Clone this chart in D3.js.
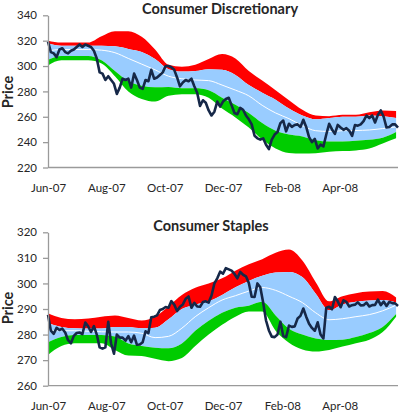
<!DOCTYPE html>
<html>
<head>
<meta charset="utf-8">
<script src="https://cdn.jsdelivr.net/npm/d3@7"></script>
<style>
  body { margin: 0; background: #fff; }
  svg text { font-family: Lato, "Open Sans", sans-serif; fill: #262626; }
</style>
</head>
<body>
<svg width="400" height="414"></svg>
<script>
// categories
var startDate = new Date(2007, 5, 1), endDate = new Date(2008, 5, 1);
var bandDates = d3.timeDay.range(startDate, new Date(2008, 4, 31), 14);   // every 2 weeks
var priceDates = d3.timeDay.range(startDate, new Date(2008, 5, 2), 3);    // every 3 days
var monthTicks = [new Date(2007, 5, 1), new Date(2007, 7, 1), new Date(2007, 9, 1),
                  new Date(2007, 11, 1), new Date(2008, 1, 1), new Date(2008, 3, 1)];

// Consumer Discretionary
var dcTicks = [220, 240, 260, 280, 300, 320, 340];
var dcUpper2 = [320, 318.5, 318.5, 318.5, 323.5, 327.5, 327.5, 323, 313, 301, 299.5, 301, 305.5, 309.5, 306, 296, 288.5, 281, 273, 265.5, 261, 260.5, 261.5, 261.5, 263.5, 265, 264.5];
var dcUpper1 = [318, 316, 316, 316, 316, 315.5, 313.5, 311, 305.5, 297.5, 295.6, 296, 297.5, 297, 293, 285, 279, 273.5, 266.5, 261, 258, 259, 260, 260, 261, 260.5, 259];
var dcMid    = [312, 313, 313, 313, 312.5, 310.5, 306, 301.5, 297, 292, 290, 289, 288.5, 285, 281, 276.5, 269, 263, 258.5, 253, 249, 248.4, 249, 249.2, 249.6, 250.7, 252];
var dcLower1 = [305, 308, 308, 308, 304.5, 296, 288, 284.5, 283.3, 283.5, 282.5, 282.5, 281, 275, 269.5, 263, 255, 249, 246, 244.5, 241.5, 240.5, 240.5, 241, 241.8, 243.5, 248];
var dcLower2 = [300.5, 304.5, 304.5, 304.5, 302, 292, 280, 274, 272, 276.5, 277.8, 277.8, 275, 266.5, 259.5, 251.5, 242, 235, 231.5, 231, 231.3, 232.5, 233, 233.5, 235, 239, 243];
var dcPrice = [
  319.3, 311, 310, 307, 313, 314, 311, 310, 312, 313,
  315, 317, 315, 317, 316, 315, 312, 306, 295, 294,
  289, 292, 289, 286, 278, 283, 290, 289, 290, 283,
  294, 289, 283, 282, 289, 288, 297, 290, 291, 293,
  295, 300, 300, 299, 297, 291, 284, 287, 289, 288,
  290, 284, 279, 268.6, 273, 271, 265, 261, 264, 272,
  268, 272, 274, 275, 269, 263, 262, 267, 265.5, 261,
  258, 254, 245, 243, 242, 243, 238, 234.5, 242, 246,
  248, 255, 257, 248.5, 254.5, 252, 253.5, 254, 252, 257.6,
  252, 244, 240, 242.5, 235, 238, 236.6, 246, 254.5, 250,
  246.5, 253.6, 251.5, 249.7, 251, 249, 245, 253.5, 253, 254,
  256.5, 261, 259, 261, 255.5, 261.5, 265, 260, 251.5, 252,
  254, 254, 251.5];

// Consumer Staples
var csTicks = [260, 270, 280, 290, 300, 310, 320];
var csUpper2 = [288.3, 286.5, 286, 286.3, 287, 287.5, 286.5, 285.5, 287, 291, 295.5, 298.3, 300, 302, 305, 307.5, 309.5, 312, 313.3, 309, 300.5, 293, 295, 296.2, 296.8, 297, 294.5];
var csUpper1 = [284.4, 283, 282.5, 282.4, 282.4, 283, 283, 282.5, 282.7, 286, 290, 291.7, 293, 295.5, 298.5, 301, 303, 304.3, 304.5, 302.5, 296, 289.5, 291.8, 292.8, 293.3, 293.5, 292.5];
var csMid    = [281.5, 281.5, 281.5, 281.3, 281.1, 281, 281, 280.5, 278.8, 279.3, 282.5, 287, 290.5, 293.5, 295.2, 297, 298.4, 297.3, 295, 292.5, 288.5, 285.8, 286.2, 287, 287.8, 289.3, 291.5];
var csLower1 = [277, 279, 279.8, 279.8, 279.8, 279.2, 276.5, 275.5, 274.8, 274.6, 276.5, 281.5, 285.4, 288.5, 290.5, 291.3, 292.8, 287.5, 282.3, 280, 278.5, 277.9, 278, 279, 280.6, 283, 288];
var csLower2 = [272, 275.5, 276.6, 276.6, 276.6, 274, 271.8, 271.6, 270.5, 269.6, 270.8, 275.5, 280, 283.8, 287, 289, 289, 281.5, 276.8, 274.2, 273.4, 274, 275.3, 276.6, 278, 281, 287];
var csPrice = [
  287.7, 281.5, 280.3, 282.6, 281.8, 282.3, 280.8, 277.8, 276.6, 279.5,
  280.6, 280.8, 280.2, 284.7, 283.2, 281, 283.3, 280, 275, 274.5,
  275, 285, 276.5, 272.5, 280, 278.8, 278.8, 277.6, 279.4, 277,
  279.6, 276, 276.1, 277, 281.3, 280.6, 286.8, 287, 287.5, 289.6,
  290, 290.8, 290.5, 293.1, 291.7, 289.2, 290.9, 291.8, 294, 294.9,
  290.5, 292.4, 291, 290.9, 292.7, 293, 292.5, 295.3, 300, 302,
  304.6, 303.8, 306, 305.5, 305, 303.7, 302, 304.5, 303.4, 302.8,
  300.2, 294.8, 294.7, 300, 298.5, 292.5, 285.5, 281.6, 279.2, 279,
  280, 285, 279.4, 279, 283.5, 283, 283.2, 286.3, 287.3, 290.2,
  287, 284.2, 282.6, 281.5, 284.8, 280, 278.5, 290.5, 290.9, 289.9,
  294.7, 293, 290.7, 293.4, 292.8, 291, 291.5, 291.7, 292.6, 291.4,
  291.5, 292.5, 291, 291.5, 291.6, 293.7, 291.5, 292.9, 291.2, 292.8,
  292.3, 292.2, 291.2];

var svg = d3.select("svg");
var xScale = d3.scaleTime().domain([startDate, endDate]).range([48, 398]);

function drawPanel(p) {
  var yScale = d3.scaleLinear().domain([p.ticks[0], p.ticks[p.ticks.length - 1]]).range([p.bottom, p.top]);
  var g = svg.append("g");

  var bands = bandDates.map(function(d, i) {
    return { date: d, u2: p.upper2[i], u1: p.upper1[i], m: p.mid[i], l1: p.lower1[i], l2: p.lower2[i] };
  });
  var prices = priceDates.slice(0, p.price.length).map(function(d, i) { return { date: d, v: p.price[i] }; });

  function band(a, b) {
    return d3.area().curve(d3.curveMonotoneX)
      .x(function(d) { return xScale(d.date); })
      .y0(function(d) { return yScale(d[b]); })
      .y1(function(d) { return yScale(d[a]); });
  }

  g.append("path").datum(bands).attr("fill", "#ff0000").attr("d", band("u2", "u1"));
  g.append("path").datum(bands).attr("fill", "#99ccff").attr("d", band("u1", "l1"));
  g.append("path").datum(bands).attr("fill", "#00cc00").attr("d", band("l1", "l2"));

  g.append("path").datum(bands)
    .attr("fill", "none").attr("stroke", "#ffffff").attr("stroke-width", 1)
    .attr("d", d3.line().curve(d3.curveMonotoneX)
      .x(function(d) { return xScale(d.date); })
      .y(function(d) { return yScale(d.m); }));

  g.append("path").datum(prices)
    .attr("fill", "none").attr("stroke", "#162848").attr("stroke-width", 2.6)
    .attr("stroke-linejoin", "round")
    .attr("d", d3.line()
      .x(function(d) { return xScale(d.date); })
      .y(function(d) { return yScale(d.v); }));

  // axes
  var yAxis = g.append("g")
    .attr("transform", "translate(48,0)")
    .call(d3.axisLeft(yScale).tickValues(p.ticks).tickSize(5).tickSizeOuter(0).tickPadding(6));
  var xAxis = g.append("g")
    .attr("transform", "translate(0," + p.bottom + ")")
    .call(d3.axisBottom(xScale).tickValues(monthTicks).tickFormat(d3.timeFormat("%b-%y"))
      .tickSize(0).tickSizeOuter(0).tickPadding(16));
  [yAxis, xAxis].forEach(function(a) {
    a.selectAll("path, line").attr("stroke", "#9a9a9a").attr("stroke-width", 1.3);
    a.selectAll("text").attr("font-size", 11.5).attr("font-family", "Lato, sans-serif").attr("fill", "#262626");
  });
  xAxis.select(".domain").attr("d", "M48,0H398");

  g.append("text")
    .attr("x", p.titleX).attr("y", p.titleY)
    .attr("text-anchor", "middle")
    .attr("font-weight", "bold").attr("font-size", 14.5)
    .text(p.title);

  g.append("text")
    .attr("transform", "translate(13," + p.labelY + ") rotate(-90)")
    .attr("text-anchor", "middle")
    .attr("font-weight", "bold").attr("font-size", 14.5)
    .text("Price");
}

drawPanel({ title: "Consumer Discretionary", titleX: 220, titleY: 14, labelY: 92,
  top: 15.3, bottom: 167.5, ticks: dcTicks,
  upper2: dcUpper2, upper1: dcUpper1, mid: dcMid, lower1: dcLower1, lower2: dcLower2, price: dcPrice });

drawPanel({ title: "Consumer Staples", titleX: 211, titleY: 231, labelY: 308,
  top: 232.3, bottom: 385.7, ticks: csTicks,
  upper2: csUpper2, upper1: csUpper1, mid: csMid, lower1: csLower1, lower2: csLower2, price: csPrice });
</script>
</body>
</html>
